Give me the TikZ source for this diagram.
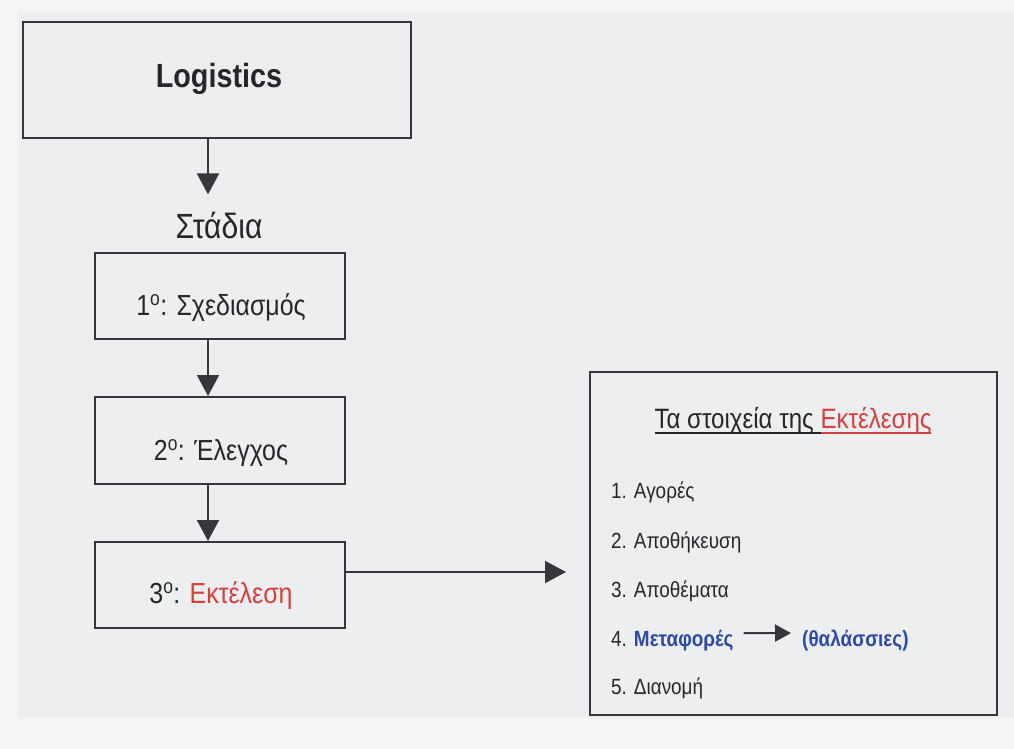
\documentclass[tikz,border=0pt]{standalone}
\usepackage{fontspec}
\setmainfont{Liberation Sans}[FakeStretch=0.86]
\usetikzlibrary{arrows.meta}

\definecolor{paper}{HTML}{F4F5F5}
\definecolor{page}{HTML}{ECEEEF}
\definecolor{ink}{HTML}{26272B}
\definecolor{frame}{HTML}{36373C}
\definecolor{hot}{HTML}{D8403F}
\definecolor{sea}{HTML}{2D4AA8}

\newcommand{\fs}[1]{\fontsize{#1}{1.2\dimexpr #1pt\relax}\selectfont}
% underline drawn as a rule in the current colour
\newcommand{\ulrule}[1]{\setbox0\hbox{#1}\rlap{\rule[-5.5pt]{\wd0}{1.8pt}}\box0}

\tikzset{
  box/.style={draw=frame, line width=2pt, fill=page, inner sep=0pt},
  label/.style={text=ink, inner sep=0pt, anchor=base},
  item/.style={text=ink, inner sep=0pt, anchor=base west, font=\fs{22}},
  arr/.style={draw=frame, line width=2pt,
    -{Triangle[length=21pt,width=22pt]}},
  smallarr/.style={draw=frame, line width=2pt,
    -{Triangle[length=16pt,width=17pt]}},
}

\begin{document}
\begin{tikzpicture}[x=1pt,y=-1pt]
  % paper and scanned page
  \fill[paper] (0,0) rectangle (1014,749);
  \fill[page] (18,12) rectangle (1014,718);
  \useasboundingbox (0,0) rectangle (1014,749);

  % helper coordinates for the off-centre arrows
  \coordinate (ax) at (208,0);
  \coordinate (ay) at (0,572);

  % top box
  \node[box, minimum width=388pt, minimum height=116pt] (log) at (217,80) {};
  \node[label, font=\fs{33.5}\bfseries] (logt) at (219,88) {Logistics};

  \node[label, font=\fs{35}] (stadia) at (219,238) {Στάδια};

  % stages
  \node[box, minimum width=250pt, minimum height=86pt] (s1) at (220,296) {};
  \node[box, minimum width=250pt, minimum height=87pt] (s2) at (220,440.5) {};
  \node[box, minimum width=250pt, minimum height=86pt] (s3) at (220,585) {};
  \node[label, font=\fs{29}] (s1t) at (221,315) {1\textsuperscript{o}: Σχεδιασμός};
  \node[label, font=\fs{29}] (s2t) at (221,460) {2\textsuperscript{o}: Έλεγχος};
  \node[label, font=\fs{29}] (s3t) at (221,603) {3\textsuperscript{o}: \textcolor{hot}{Εκτέλεση}};

  % panel listing the elements of execution
  \node[box, minimum width=407pt, minimum height=343pt] (panel) at (793.5,543.5) {};
  \node[label, font=\fs{28}] (title) at (793,428)
    {\ulrule{Τα στοιχεία της }\textcolor{hot}{\ulrule{Εκτέλεσης}}};
  \node[item] (i1) at (611,498) {1. Αγορές};
  \node[item] (i2) at (611,548) {2. Αποθήκευση};
  \node[item] (i3) at (611,597) {3. Αποθέματα};
  \node[item] (i4) at (611,646) {4. \textcolor{sea}{\bfseries Μεταφορές}};
  \node[item, text=sea, font=\fs{22}\bfseries] (i4b) at (802,646) {(θαλάσσιες)};
  \node[item] (i5) at (611,694) {5. Διανομή};

  % connectors
  \draw[arr] (log.south -| ax) -- ([yshift=17pt]stadia.north -| ax);
  \draw[arr] (s1.south -| ax) -- (s2.north -| ax);
  \draw[arr] (s2.south -| ax) -- (s3.north -| ax);
  \draw[arr, shorten >=23pt] (s3.east |- ay) -- (panel.west |- ay);
  \draw[smallarr, shorten <=10pt, shorten >=11pt] ([yshift=7pt]i4.east) -- ([yshift=7pt]i4b.west);
\end{tikzpicture}
\end{document}
